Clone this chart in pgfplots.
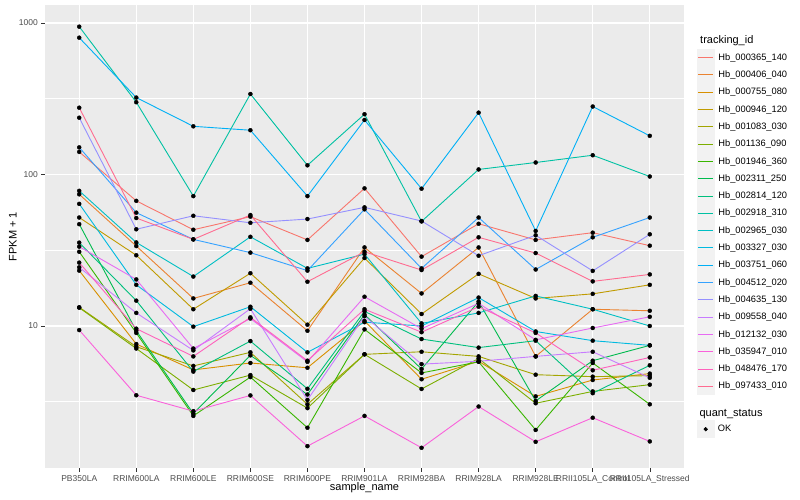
\documentclass[border=0pt]{standalone}
\usepackage{fontspec}
\setmainfont{Liberation Sans}
\usepackage{pgfplots}
\usepackage{pgfplotstable}
\pgfplotsset{compat=1.18}

\definecolor{c1}{HTML}{F8766D}
\definecolor{c2}{HTML}{EA8331}
\definecolor{c3}{HTML}{D89000}
\definecolor{c4}{HTML}{C09B00}
\definecolor{c5}{HTML}{A3A500}
\definecolor{c6}{HTML}{7CAE00}
\definecolor{c7}{HTML}{39B600}
\definecolor{c8}{HTML}{00BB4E}
\definecolor{c9}{HTML}{00BF7D}
\definecolor{c10}{HTML}{00C1A3}
\definecolor{c11}{HTML}{00BFC4}
\definecolor{c12}{HTML}{00BAE0}
\definecolor{c13}{HTML}{00B0F6}
\definecolor{c14}{HTML}{35A2FF}
\definecolor{c15}{HTML}{9590FF}
\definecolor{c16}{HTML}{C77CFF}
\definecolor{c17}{HTML}{E76BF3}
\definecolor{c18}{HTML}{FA62DB}
\definecolor{c19}{HTML}{FF62BC}
\definecolor{c20}{HTML}{FF6C91}
\definecolor{panelgrey}{HTML}{EBEBEB}
\definecolor{keygrey}{HTML}{F2F2F2}
\definecolor{tickgrey}{HTML}{333333}
\definecolor{labelgrey}{HTML}{4D4D4D}

% FPKM + 1, one row per sample, one column per tracking_id
\pgfplotstableread{
x  s1   s2   s3   s4   s5   s6   s7   s8   s9   s10  s11  s12  s13  s14  s15  s16  s17  s18  s19  s20
0  141  74   23.2 52   13.3 13.2 30.9 47   35.5 946  78   64   800  151  237  24.4 33.4 9.4  26.2 276
1  67   33.7 7.6  29.3 7.3  7.1  9.0  9.3  14.7 300  35.6 18.7 322  56   43.5 12.2 20.3 3.49 9.6  51.6
2  43.2 15.2 5.13 12.9 5.45 3.78 2.55 2.64 5.0  72   21.2 9.9  208  37.3 53.4 6.9  7.1  2.74 6.3  37.3
3  52.7 19.3 5.7  22.3 6.7  4.74 4.6  6.4  7.95 340  38.8 13.4 196  30.5 48   13.0 11.2 3.48 11.4 54
4  37   9.3  5.3  10.2 3.04 2.87 2.13 3.53 3.85 115  24   6.7  72   23.2 50.8 3.25 5.8  1.61 5.9  19.6
5  81   33   10.8 28.1 6.5  6.5  9.5  11.9 12.5 250  29.8 10.6 229  58.9 60.7 11.6 15.6 2.55 12.9 30.9
6  28.7 16.4 4.45 12   6.76 3.84 4.9  5.2  8.2  49   10.4 10.0 80.6 24   49.3 5.6  9.6  1.57 9.1  23.4
7  47.3 33   5.85 22.1 6.3  6.1  5.8  14.5 7.2  108  12.2 15.4 256  52   29.1 5.85 14.1 2.94 13.4 38.5
8  37   6.3  3.43 15.2 4.77 3.09 2.06 3.2  8.0  120  15.8 9.2  42.4 23.6 39.7 6.3  8.1  1.72 9.0  30.3
9  41.3 12.9 4.4  16.3 4.63 3.7  5.7  5.9  3.6  134  12.9 8.0  281  38.5 23.1 6.76 9.7  2.48 5.1  19.7
10 33.9 12.6 4.85 18.7 4.7  4.1  3.04 7.45 5.5  97   10   7.45 180  52   40.3 4.55 11.5 1.73 6.2  21.9
}\fpkm

\pgfplotsset{
  keystyle/.style={
    legend style={draw=none, fill=none, inner sep=0pt, outer sep=0pt,
      row sep=-0.6bp, column sep=3.5bp,
      nodes={inner sep=0pt, text=black, font=\fontsize{9.3bp}{11bp}\selectfont}},
    legend cell align=left,
  },
}

\begin{document}
\begin{tikzpicture}
\fill[white] (0,0) rectangle (800bp,500bp);
\path[use as bounding box] (0,0) rectangle (800bp,500bp);

\begin{axis}[
  at={(45bp,32bp)}, anchor=south west,
  scale only axis, width=639bp, height=463bp,
  xmin=-0.6, xmax=10.6,
  ymode=log, ymin=1.155, ymax=1315,
  xtick={0,...,10},
  xticklabels={PB350LA,RRIM600LA,RRIM600LE,RRIM600SE,RRIM600PE,RRIM901LA,RRIM928BA,RRIM928LA,RRIM928LE,RRII105LA\_Control,RRII105LA\_Stressed},
  ytick={10,100,1000}, yticklabels={10,100,1000},
  minor ytick={3.1623,31.623,316.23},
  grid=both,
  major grid style={draw=white, line width=1.07bp},
  minor grid style={draw=white, line width=0.53bp},
  axis background/.style={fill=panelgrey},
  axis line style={draw=none},
  tick pos=left, tick align=outside,
  major tick length=3.7bp, minor tick length=0pt,
  major tick style={draw=tickgrey, line width=0.5bp},
  ticklabel style={font=\fontsize{8.5bp}{10bp}\selectfont, text=labelgrey},
  keystyle,
  legend style={at={(1.0203,0.9057)}, anchor=north west},
  legend image code/.code={
    \fill[keygrey] (0bp,-8.5bp) rectangle (17bp,8.5bp);
    \draw[line width=1bp] (1bp,0bp) -- (16bp,0bp);
  },
  legend entries={Hb\_000365\_140,Hb\_000406\_040,Hb\_000755\_080,Hb\_000946\_120,Hb\_001083\_030,Hb\_001136\_090,Hb\_001946\_360,Hb\_002311\_250,Hb\_002814\_120,Hb\_002918\_310,Hb\_002965\_030,Hb\_003327\_030,Hb\_003751\_060,Hb\_004512\_020,Hb\_004635\_130,Hb\_009558\_040,Hb\_012132\_030,Hb\_035947\_010,Hb\_048476\_170,Hb\_097433\_010},
]
\pgfplotsinvokeforeach{1,...,20}{
  \addplot[no markers, color=c#1, line width=0.9bp] table[x=x, y=s#1] {\fpkm};
}
\pgfplotsinvokeforeach{1,...,20}{
  \addplot[only marks, mark=*, mark size=2bp, black, forget plot] table[x=x, y=s#1] {\fpkm};
}
\end{axis}

% second legend: quant_status
\begin{axis}[
  at={(45bp,32bp)}, anchor=south west,
  scale only axis, width=639bp, height=463bp,
  hide axis, xmin=0, xmax=1, ymin=0, ymax=1,
  keystyle,
  legend style={at={(1.0203,0.1026)}, anchor=north west},
  legend image code/.code={
    \fill[keygrey] (0bp,-8.5bp) rectangle (17bp,8.5bp);
    \draw[mark=*, mark size=1.9bp] plot coordinates {(8.5bp,0bp)};
  },
]
\addlegendimage{only marks, black}
\addlegendentry{OK}
\end{axis}

\node[anchor=base west, font=\fontsize{11bp}{13bp}\selectfont] at (696.7bp,456bp) {tracking\_id};
\node[anchor=base west, font=\fontsize{11bp}{13bp}\selectfont] at (696bp,83.5bp) {quant\_status};
\node[anchor=base, font=\fontsize{11bp}{13bp}\selectfont] at (364.5bp,10bp) {sample\_name};
\node[anchor=base, rotate=90, font=\fontsize{11bp}{13bp}\selectfont] at (16.7bp,263.5bp) {FPKM + 1};
\end{tikzpicture}
\end{document}
